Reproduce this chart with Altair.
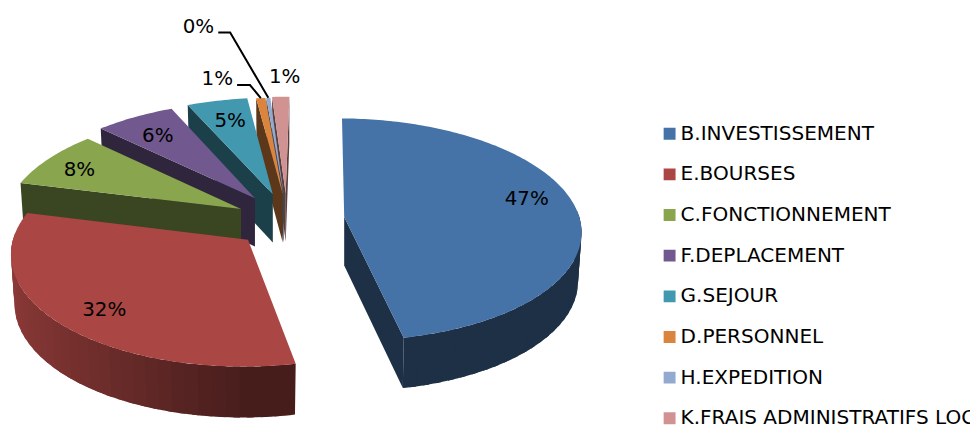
import math
import altair as alt

# data
CATEGORIES = ["B.INVESTISSEMENT", "E.BOURSES", "C.FONCTIONNEMENT", "F.DEPLACEMENT",
              "G.SEJOUR", "D.PERSONNEL", "H.EXPEDITION", "K.FRAIS ADMINISTRATIFS LOC"]
VALUES = [46.5, 32.1, 8.3, 6.1, 4.6, 0.7, 0.3, 1.3]
LABELS = ["47%", "32%", "8%", "6%", "5%", "1%", "0%", "1%"]

# style and layout of the exploded 3D pie
COLORS = ["#4572A7", "#AA4643", "#89A54E", "#71588F", "#4198AF", "#DB843D", "#93A9CF", "#D19392"]
START_DEG = 1.0
RADIUS = 237.0
TILT = 0.466
CAMERA = 2120.0
DEPTH = 49.0
PIVOT = (280.0, 208.0)             # chart-space pivot of the pie
EXPLODE_X = [59, -38, -45, -31, -13, -3, -2, 0]
EXPLODE_Y = [1, 24, -7, -18, -22, -22, -22, -23]
LABEL_DX = [184, -145, -163, -98, -43, -66, -86, -1]
LABEL_DY = [-18, 71, -39, -63, -74, -116, -169, -117]
LEADER_START = {5: (20, 6), 6: (20, 6)}
LEADER_KNEE = {5: (33, 6), 6: (32, 6)}
FONT = "DejaVu Sans"


def hexrgb(c):
    return [int(c[i:i + 2], 16) for i in (1, 3, 5)]


def shade(c, f):
    return "#%02x%02x%02x" % tuple(int(round(v * f)) for v in hexrgb(c))


def pt(ax, ay, deg, r, low=False):
    t = math.radians(deg)
    dx, dv = r * math.sin(t), -r * math.cos(t)
    v0 = (ay - PIVOT[1]) / TILT
    sy = 1 / (1 - (v0 + dv) / CAMERA)
    sx = 1 / (1 - dv / CAMERA)
    x = dx * sx + (ax - PIVOT[0]) * (sx - 1)
    y = TILT * dv * sy
    if low:
        x *= 0.985
        y += DEPTH * (1 + (sy - 1) * 0.3)
    return [ax + x, ay + y]


features = []


def poly(points, fill):
    features.append({"type": "Feature", "properties": {"fill": fill},
                     "geometry": {"type": "Polygon", "coordinates": [points + [points[0]]]}})


total = sum(VALUES)
angles = []
a = START_DEG
for v in VALUES:
    angles.append((a, a + v / total * 360))
    a += v / total * 360

apex = [(PIVOT[0] + ex, PIVOT[1] + ey) for ex, ey in zip(EXPLODE_X, EXPLODE_Y)]

for i in [7, 6, 5, 4, 3, 2, 1, 0]:
    a0, a1 = angles[i]
    ax, ay = apex[i]
    col = COLORS[i]
    base = shade(col, 0.42)
    # radial side walls facing the viewer
    for edge, normal in ((a0, a0 - 90), (a1, a1 + 90)):
        if math.cos(math.radians(normal)) < -0.001:
            poly([pt(ax, ay, edge, 0), pt(ax, ay, edge, RADIUS),
                  pt(ax, ay, edge, RADIUS, True), pt(ax, ay, edge, 0, True)], base)
    # rim strips, each with its own shade, each overlapping the next
    n = max(2, int((a1 - a0) / 3))
    for j in range(n):
        b0 = a0 + (a1 - a0) * j / n
        b1 = a0 + (a1 - a0) * min(n, j + 1.5) / n
        mid = a0 + (a1 - a0) * (j + 0.5) / n
        if math.cos(math.radians(mid)) < 0.05:
            f = 0.42 + 0.40 * max(0.0, -math.sin(math.radians(mid)))
            ss = [b0 + (b1 - b0) * q / 4 for q in range(5)]
            poly([pt(ax, ay, s, RADIUS) for s in ss] +
                 [pt(ax, ay, s, RADIUS, True) for s in reversed(ss)], shade(col, f))
    # top face
    steps = max(3, int(a1 - a0))
    arc = [pt(ax, ay, a0 + (a1 - a0) * j / steps, RADIUS) for j in range(steps + 1)]
    poly([pt(ax, ay, a0, 0)] + arc, col)

# text labels and leader lines
labels = [{"x": ax + dx, "y": ay + dy, "t": t}
          for (ax, ay), dx, dy, t in zip(apex, LABEL_DX, LABEL_DY, LABELS)]


def leader(i):
    mid = sum(angles[i]) / 2
    rim = pt(apex[i][0], apex[i][1], mid, RADIUS)
    lab = labels[i]
    s, k = LEADER_START[i], LEADER_KNEE[i]
    return [[lab["x"] + s[0], lab["y"] + s[1]], [lab["x"] + k[0], lab["y"] + k[1]], rim]


lines = [{"type": "Feature", "properties": {},
          "geometry": {"type": "LineString", "coordinates": leader(i)}} for i in (5, 6)]

proj = dict(type="identity", scale=1, translate=[0, 0])

faces = alt.Chart(alt.Data(values=features)).mark_geoshape(strokeWidth=0).encode(
    fill=alt.Fill("properties.fill:N", scale=None, legend=None),
).project(**proj)

lead = alt.Chart(alt.Data(values=lines)).mark_geoshape(
    filled=False, stroke="#000000", strokeWidth=2).project(**proj)

xs = alt.Scale(domain=[0, 970], range=[0, 970])
ys = alt.Scale(domain=[0, 417], range=[0, 417])

text = alt.Chart(alt.Data(values=labels)).mark_text(
    font=FONT, fontSize=20, color="#000000").encode(
    x=alt.X("x:Q", scale=xs, axis=None), y=alt.Y("y:Q", scale=ys, axis=None), text="t:N")

legend_data = [{"c": c} for c in CATEGORIES]
legend = alt.Chart(alt.Data(values=legend_data)).mark_square(size=0, opacity=0).encode(
    x=alt.value(0), y=alt.value(0),
    color=alt.Color("c:N", scale=alt.Scale(domain=CATEGORIES, range=COLORS), sort=CATEGORIES,
                    legend=alt.Legend(title=None, orient="none", legendX=657, legendY=115,
                                      symbolType="square", symbolSize=144, symbolOpacity=1,
                                      symbolStrokeWidth=0, labelFont=FONT, labelFontSize=20.2,
                                      labelColor="#000000", labelLimit=400, labelOffset=1,
                                      clipHeight=20, rowPadding=20, padding=0)),
)

chart = alt.layer(faces, lead, text, legend).properties(
    width=970, height=417, padding=0, autosize=alt.AutoSizeParams(type="none"),
).configure_view(stroke=None)

chart.save("out.html", embed_options={"renderer": "svg", "actions": False})
